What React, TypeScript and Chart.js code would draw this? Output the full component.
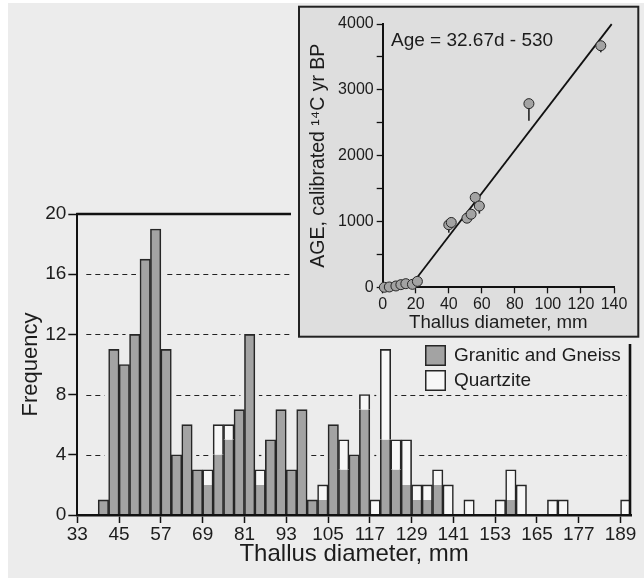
import React, { useEffect, useRef } from "react";
import { Chart, registerables } from "chart.js";

Chart.register(...registerables);

// ---------- Histogram data (3 mm bins, value = bin start) ----------
const BIN_STARTS = [
  39, 42, 45, 48, 51, 54, 57, 60, 63, 66, 69, 72, 75, 78, 81, 84, 87, 90, 93, 96,
  99, 102, 105, 108, 111, 114, 117, 120, 123, 126, 129, 132, 135, 138, 141, 144,
  147, 150, 153, 156, 159, 162, 165, 168, 171, 174, 177, 180, 183, 186, 189,
];
const GRANITIC = [
  1, 11, 10, 12, 17, 19, 11, 4, 6, 3,
  2, 4, 5, 7, 12, 2, 5, 7, 3, 7,
  1, 1, 6, 3, 4, 7, 0, 5, 3, 2,
  1, 1, 2, 0, 0, 0, 0, 0, 0, 1,
  0, 0, 0, 0, 0, 0, 0, 0, 0, 0, 0,
];
const QUARTZITE = [
  0, 0, 0, 0, 0, 0, 0, 0, 0, 0,
  1, 2, 1, 0, 0, 1, 0, 0, 0, 0,
  0, 1, 0, 2, 0, 1, 1, 6, 2, 3,
  1, 1, 1, 2, 0, 1, 0, 0, 1, 2,
  2, 0, 0, 1, 1, 0, 0, 0, 0, 0, 1,
];
const BIN_WIDTH = 3;
const X_TICKS = [33, 45, 57, 69, 81, 93, 105, 117, 129, 141, 153, 165, 177, 189];
const Y_TICKS = [0, 4, 8, 12, 16, 20];
const GRID_VALUES = [4, 8, 12, 16];
const SERIES_LABELS = ["Granitic and Gneiss", "Quartzite"];

// ---------- Inset data ----------
const AGE_D = [1, 4, 8, 11, 14, 18, 21, 40, 41.5, 51, 53.5, 56, 58.5, 88.5, 132];
const AGE_Y = [0, 5, 20, 40, 55, 45, 90, 950, 985, 1050, 1110, 1365, 1235, 2790, 3670];
const AGE_LOW: (number | null)[] = [null, null, null, null, null, null, null, 830, null, null, null, null, 1120, 2530, 3570];
const FIT_D = [18.5, 138.6];
const FIT_AGE = [74, 3998];
const INSET_X_TICKS = [0, 20, 40, 60, 80, 100, 120, 140];
const EQUATION = "Age = 32.67d - 530";

const FONT = '"Liberation Sans", Arial, Helvetica, sans-serif';
const TEXT = "#1c1c1c";
const PANEL = "#ececec";
const GRAY = "#a3a3a3";
const WHITE_BAR = "#f7f7f7";
const EDGE = "#262626";
const BW = 1.6;

export default function App() {
  const mainRef = useRef<HTMLCanvasElement>(null);
  const insetRef = useRef<HTMLCanvasElement>(null);

  useEffect(() => {
    document.body.style.margin = "0";

    const totals = BIN_STARTS.map((_, i) => GRANITIC[i] + QUARTZITE[i]);

    const panelBg = {
      id: "panelBg",
      beforeDraw(chart: any) {
        const { ctx, width, height } = chart;
        ctx.save();
        ctx.fillStyle = "#ffffff";
        ctx.fillRect(0, 0, width, height);
        ctx.fillStyle = PANEL;
        ctx.fillRect(8, 3, width - 8, 575);
        ctx.restore();
      },
    };

    const dashedGrid = {
      id: "dashedGrid",
      beforeDatasetsDraw(chart: any) {
        const { ctx, chartArea, scales } = chart;
        const xs = scales.x;
        const ys = scales.y;
        const x0 = chartArea.left + 9;
        const x1 = chartArea.right - 4;
        ctx.save();
        ctx.strokeStyle = "#222";
        ctx.lineWidth = 1.2;
        ctx.setLineDash([5, 4]);
        GRID_VALUES.forEach((v) => {
          const y = Math.round(ys.getPixelForValue(v)) + 0.5;
          const blocks: [number, number][] = [];
          BIN_STARTS.forEach((s, i) => {
            if (totals[i] >= v) {
              blocks.push([xs.getPixelForValue(s) - 4, xs.getPixelForValue(s + BIN_WIDTH) + 4]);
            }
          });
          let cur = x0;
          const segs: [number, number][] = [];
          blocks.forEach(([a, b]) => {
            if (a > cur) segs.push([cur, Math.min(a, x1)]);
            cur = Math.max(cur, b);
          });
          if (cur < x1) segs.push([cur, x1]);
          segs.forEach(([a, b]) => {
            if (b - a < 2) return;
            ctx.lineDashOffset = a - x0;
            ctx.beginPath();
            ctx.moveTo(a, y);
            ctx.lineTo(b, y);
            ctx.stroke();
          });
        });
        ctx.restore();
      },
    };

    const frame = {
      id: "frame",
      afterDatasetsDraw(chart: any) {
        const { ctx, chartArea } = chart;
        ctx.save();
        ctx.strokeStyle = "#111";
        ctx.lineWidth = 2.6;
        ctx.beginPath();
        ctx.moveTo(chartArea.left - 1, chartArea.top);
        ctx.lineTo(chartArea.right, chartArea.top);
        ctx.moveTo(chartArea.right - 1, chartArea.top);
        ctx.lineTo(chartArea.right - 1, chartArea.bottom);
        ctx.stroke();
        ctx.restore();
      },
    };

    const legendPlugin = {
      id: "customLegend",
      afterDraw(chart: any) {
        const { ctx } = chart;
        ctx.save();
        chart.data.datasets.forEach((ds: any, i: number) => {
          const bx = 425;
          const by = 345 + i * 25;
          ctx.fillStyle = ds.backgroundColor;
          ctx.fillRect(bx, by, 21, 21);
          ctx.strokeStyle = EDGE;
          ctx.lineWidth = 1.5;
          ctx.strokeRect(bx + 0.75, by + 0.75, 19.5, 19.5);
          ctx.fillStyle = TEXT;
          ctx.font = `19px ${FONT}`;
          ctx.textBaseline = "middle";
          ctx.textAlign = "left";
          ctx.fillText(ds.label, 454, by + 11);
        });
        ctx.restore();
      },
    };

    const main = new Chart(mainRef.current as HTMLCanvasElement, {
      type: "bar",
      data: {
        datasets: [
          {
            label: SERIES_LABELS[0],
            data: BIN_STARTS.map((s, i) => ({ x: s + BIN_WIDTH / 2, y: GRANITIC[i] > 0 ? GRANITIC[i] : null })) as any,
            backgroundColor: GRAY,
            borderColor: EDGE,
            borderSkipped: false,
            borderWidth: ((c: any) => ({
              left: BW,
              right: BW,
              bottom: 0,
              top: QUARTZITE[c.dataIndex] > 0 ? 0 : BW,
            })) as any,
            categoryPercentage: 1,
            barPercentage: 1,
          },
          {
            label: SERIES_LABELS[1],
            data: BIN_STARTS.map((s, i) => ({ x: s + BIN_WIDTH / 2, y: QUARTZITE[i] > 0 ? QUARTZITE[i] : null })) as any,
            backgroundColor: WHITE_BAR,
            borderColor: EDGE,
            borderSkipped: false,
            borderWidth: { left: BW, right: BW, bottom: 0, top: BW } as any,
            categoryPercentage: 1,
            barPercentage: 1,
          },
        ],
      },
      options: {
        responsive: false,
        animation: false,
        layout: { padding: { top: 214, right: 13, bottom: 0, left: 0 } },
        plugins: { legend: { display: false }, tooltip: { enabled: false } },
        scales: {
          x: {
            type: "linear",
            min: 33,
            max: 192,
            stacked: true,
            offset: false,
            afterBuildTicks: (s: any) => {
              s.ticks = X_TICKS.map((v) => ({ value: v }));
            },
            afterFit: (s: any) => {
              s.height = 66;
            },
            grid: {
              offset: false,
              drawOnChartArea: false,
              drawTicks: true,
              tickLength: 8,
              tickWidth: 1.5,
              tickColor: "#111",
            },
            border: { display: true, width: 2.6, color: "#111", z: 1 } as any,
            ticks: {
              autoSkip: false,
              maxRotation: 0,
              padding: 0,
              color: TEXT,
              font: { family: FONT, size: 19 },
            },
            title: {
              display: true,
              text: "Thallus diameter, mm",
              color: TEXT,
              font: { family: FONT, size: 24 },
              padding: { top: 0, bottom: 12 },
            },
          },
          y: {
            min: 0,
            max: 20,
            stacked: true,
            afterBuildTicks: (s: any) => {
              s.ticks = Y_TICKS.map((v) => ({ value: v }));
            },
            afterFit: (s: any) => {
              s.width = 77.3;
            },
            grid: {
              drawOnChartArea: false,
              drawTicks: true,
              tickLength: 9,
              tickWidth: 1.5,
              tickColor: "#111",
            },
            border: { display: true, width: 2, color: "#111", z: 1 } as any,
            ticks: {
              padding: 2,
              color: TEXT,
              font: { family: FONT, size: 19 },
            },
            title: {
              display: true,
              text: "Frequency",
              color: TEXT,
              font: { family: FONT, size: 22 },
              padding: { top: 18, bottom: 0 },
            },
          },
        },
      },
      plugins: [panelBg, dashedGrid, frame, legendPlugin],
    });

    // ---------- Inset ----------
    const insetBg = {
      id: "insetBg",
      beforeDraw(chart: any) {
        const { ctx, width, height } = chart;
        ctx.save();
        ctx.fillStyle = "#ffffff";
        ctx.fillRect(0, 0, width, 3);
        ctx.fillStyle = PANEL;
        ctx.fillRect(0, 3, width, height - 3);
        ctx.fillStyle = "#dedede";
        ctx.fillRect(8, 6.7, 339.3, 330);
        ctx.strokeStyle = "#222";
        ctx.lineWidth = 2;
        ctx.strokeRect(8, 6.7, 339.3, 330);
        ctx.restore();
      },
    };

    const errorBars = {
      id: "errorBars",
      beforeDatasetsDraw(chart: any) {
        const { ctx } = chart;
        const meta = chart.getDatasetMeta(1);
        const ys = chart.scales.y;
        ctx.save();
        ctx.strokeStyle = "#222";
        ctx.lineWidth = 1.6;
        AGE_LOW.forEach((low, i) => {
          if (low == null) return;
          const el = meta.data[i];
          if (!el) return;
          ctx.beginPath();
          ctx.moveTo(el.x, el.y);
          ctx.lineTo(el.x, ys.getPixelForValue(low));
          ctx.stroke();
        });
        ctx.restore();
      },
    };

    const equation = {
      id: "equation",
      afterDraw(chart: any) {
        const { ctx } = chart;
        ctx.save();
        ctx.fillStyle = TEXT;
        ctx.font = `19px ${FONT}`;
        ctx.textBaseline = "middle";
        ctx.textAlign = "left";
        ctx.fillText(EQUATION, 100, 41);
        ctx.restore();
      },
    };

    const inset = new Chart(insetRef.current as HTMLCanvasElement, {
      type: "scatter",
      data: {
        datasets: [
          {
            type: "line",
            data: FIT_D.map((d, i) => ({ x: d, y: FIT_AGE[i] })),
            borderColor: "#111",
            borderWidth: 1.8,
            pointRadius: 0,
            order: 2,
            clip: false as any,
          } as any,
          {
            type: "scatter",
            data: AGE_D.map((d, i) => ({ x: d, y: AGE_Y[i] })),
            pointRadius: 5,
            backgroundColor: GRAY,
            borderColor: EDGE,
            borderWidth: 1,
            order: 1,
            clip: false as any,
          } as any,
        ],
      },
      options: {
        responsive: false,
        animation: false,
        layout: { padding: { top: 24, right: 30, bottom: 0, left: 0 } },
        plugins: { legend: { display: false }, tooltip: { enabled: false } },
        scales: {
          x: {
            type: "linear",
            min: 0,
            max: 140,
            afterBuildTicks: (s: any) => {
              s.ticks = INSET_X_TICKS.map((v) => ({ value: v }));
            },
            afterFit: (s: any) => {
              s.height = 344 - 287.3;
            },
            grid: { drawOnChartArea: false, drawTicks: true, tickLength: 6, tickWidth: 1.3, tickColor: "#111" },
            border: { display: true, width: 2, color: "#111" },
            ticks: { autoSkip: false, maxRotation: 0, padding: 2, color: TEXT, font: { family: FONT, size: 16 } },
            title: {
              display: true,
              text: "Thallus diameter, mm",
              color: TEXT,
              font: { family: FONT, size: 18.7 },
              padding: { top: 0, bottom: 10 },
            },
          },
          y: {
            min: 0,
            max: 4000,
            ticks: {
              stepSize: 500,
              autoSkip: false,
              padding: 3,
              color: TEXT,
              font: { family: FONT, size: 16 },
              callback: (v: any) => (Number(v) % 1000 === 0 ? String(v) : ""),
            },
            afterFit: (s: any) => {
              s.width = 91.7;
            },
            grid: { drawOnChartArea: false, drawTicks: true, tickLength: 6, tickWidth: 1.3, tickColor: "#111" },
            border: { display: true, width: 2, color: "#111" },
            title: {
              display: true,
              text: "AGE, calibrated ¹⁴C yr BP",
              color: TEXT,
              font: { family: FONT, size: 19.5 },
              padding: { top: 16, bottom: 0 },
            },
          },
        },
      },
      plugins: [insetBg, errorBars, equation],
    });

    return () => {
      main.destroy();
      inset.destroy();
    };
  }, []);

  return (
    <div style={{ position: "relative", width: 644, height: 581, background: "#ffffff" }}>
      <canvas
        ref={mainRef}
        width={644}
        height={581}
        style={{ position: "absolute", left: 0, top: 0, width: 644, height: 581 }}
      />
      <canvas
        ref={insetRef}
        width={353}
        height={344}
        style={{ position: "absolute", left: 291, top: 0, width: 353, height: 344 }}
      />
    </div>
  );
}
